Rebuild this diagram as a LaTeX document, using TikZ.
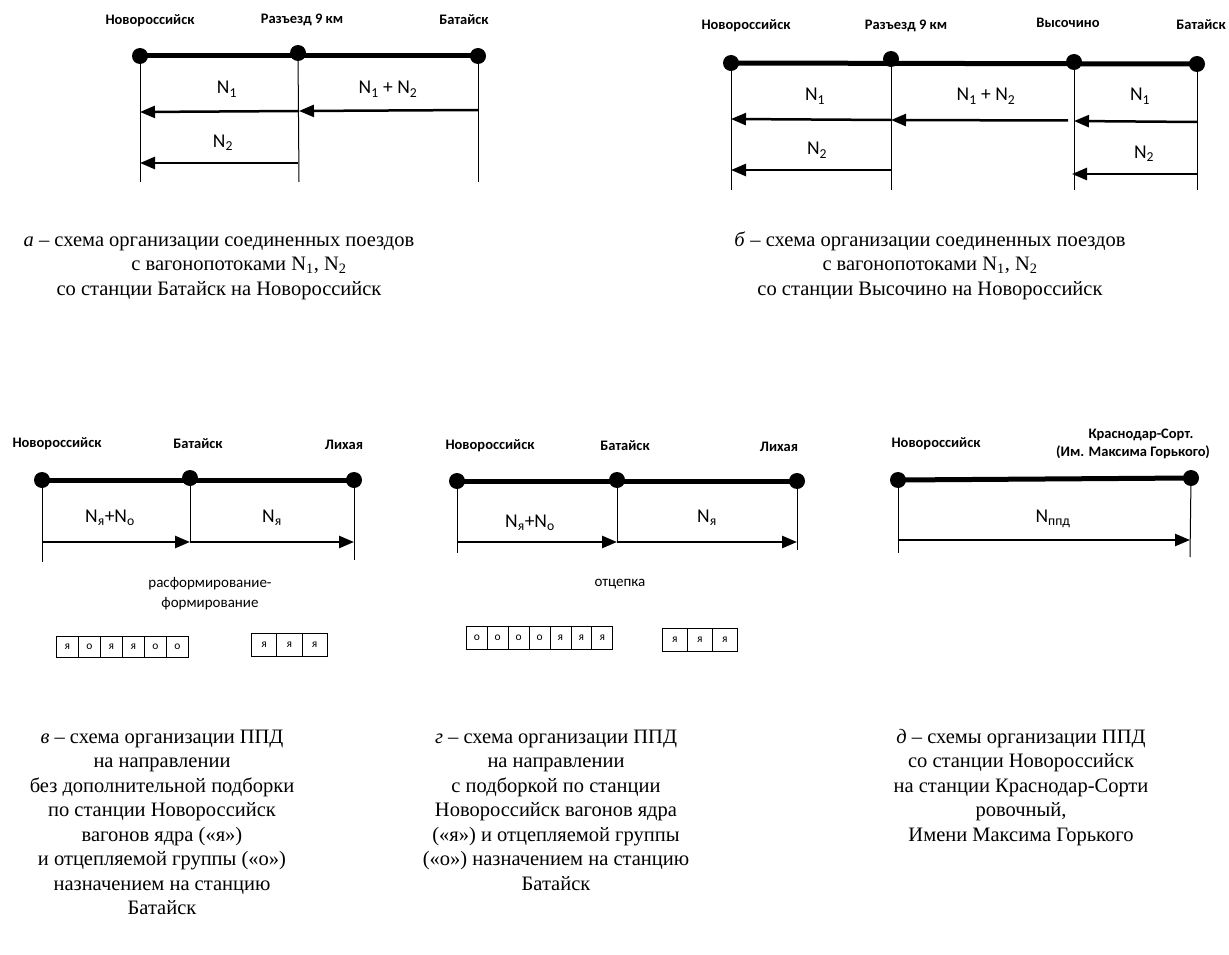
\documentclass[tikz,border=0pt]{standalone}
\usepackage{fontspec}
\setmainfont{Liberation Serif}
\newfontfamily\carl{Carlito}
\usetikzlibrary{arrows.meta}
\tikzset{
 track/.style={line width=5pt},
 stn/.style={circle, fill=black, inner sep=0pt, minimum size=16pt},
 vline/.style={line width=1pt},
 flow/.style={line width=2.5pt, -{Triangle[length=15pt,width=12pt]}},
 lbl/.style={font=\carl\bfseries\fontsize{14.5}{16}\selectfont, anchor=base, inner sep=0pt},
 nlbl/.style={font=\carl\fontsize{19.5}{22}\selectfont, anchor=base, inner sep=0pt},
 note/.style={font=\carl\fontsize{15}{20}\selectfont, align=center, anchor=base, inner sep=0pt},
 capt/.style={font=\fontsize{20.5}{24.5}\selectfont, align=center, anchor=north, inner sep=0pt},
 cell/.style={draw, line width=0.8pt, minimum width=22pt, minimum height=21pt, inner sep=0pt, font=\carl\fontsize{11.5}{12}\selectfont, anchor=north west}
}
\begin{document}
\begin{tikzpicture}[x=1pt,y=-1pt]
\useasboundingbox (0,0) rectangle (1229,955);

% ===== panel a =====
\coordinate (a1) at (140,56); \coordinate (a2) at (298,53); \coordinate (a3) at (478,56);
\draw[track] (a1) -- (a3);
\node[stn] (A1) at (a1) {}; \node[stn] (A2) at (a2) {}; \node[stn] (A3) at (a3) {};
\coordinate (a1b) at (140,182); \coordinate (a2b) at (299,182); \coordinate (a3b) at (478,182);
\draw[vline] (A1.center) -- (a1b); \draw[vline] (A2.center) -- (a2b); \draw[vline] (A3.center) -- (a3b);
\coordinate (ar1) at (478,110); \coordinate (ar2) at (299,111); \coordinate (ar3) at (140,112);
\draw[flow] (ar1) -- (ar2); \draw[flow] (ar2) -- (ar3);
\coordinate (ar4) at (298,163); \coordinate (ar5) at (140,163);
\draw[flow] (ar4) -- (ar5);
\node[lbl] (la1) at (150,25) {Новороссийск};
\node[lbl] (la2) at (302,24) {Разъезд 9 км};
\node[lbl] (la3) at (464,25) {Батайск};
\node[nlbl] (na1) at (227,94) {N\textsubscript{1}};
\node[nlbl] (na2) at (388,94) {N\textsubscript{1} + N\textsubscript{2}};
\node[nlbl] (na3) at (223,147) {N\textsubscript{2}};
\node[capt] (ca) at (219,229) {\strut\textit{а} – схема организации соединенных поездов\\\hspace*{40pt}с вагонопотоками N\textsubscript{1}, N\textsubscript{2}\\со станции Батайск на Новороссийск};

% ===== panel b =====
\coordinate (b1) at (731,63); \coordinate (b2) at (891,59); \coordinate (b3) at (1074,62); \coordinate (b4) at (1197,64);
\draw[track] (b1) -- (b4);
\node[stn] (B1) at (b1) {}; \node[stn] (B2) at (b2) {}; \node[stn] (B3) at (b3) {}; \node[stn] (B4) at (b4) {};
\coordinate (b1b) at (731,190); \coordinate (b2b) at (891,190); \coordinate (b3b) at (1074,190); \coordinate (b4b) at (1197,190);
\draw[vline] (B1.center) -- (b1b); \draw[vline] (B2.center) -- (b2b); \draw[vline] (B3.center) -- (b3b); \draw[vline] (B4.center) -- (b4b);
\coordinate (br1) at (1197,122); \coordinate (br2) at (1074,121);
\coordinate (br3) at (1068,120.5); \coordinate (br4) at (891,120);
\coordinate (br5) at (731,119);
\draw[flow] (br1) -- (br2); \draw[flow] (br3) -- (br4); \draw[flow] (br4) -- (br5);
\coordinate (br6) at (891,170); \coordinate (br7) at (731,170);
\coordinate (br8) at (1197,174); \coordinate (br9) at (1072,174);
\draw[flow] (br6) -- (br7); \draw[flow] (br8) -- (br9);
\node[lbl] (lb1) at (746,30) {Новороссийск};
\node[lbl] (lb2) at (906,30) {Разъезд 9 км};
\node[lbl] (lb3) at (1068,28) {Высочино};
\node[lbl] (lb4) at (1201,30) {Батайск};
\node[nlbl] (nb1) at (815,101) {N\textsubscript{1}};
\node[nlbl] (nb2) at (986,101) {N\textsubscript{1} + N\textsubscript{2}};
\node[nlbl] (nb3) at (1140,101) {N\textsubscript{1}};
\node[nlbl] (nb4) at (817,155) {N\textsubscript{2}};
\node[nlbl] (nb5) at (1144,158) {N\textsubscript{2}};
\node[capt] (cb) at (930,229) {\strut\textit{б} – схема организации соединенных поездов\\с вагонопотоками N\textsubscript{1}, N\textsubscript{2}\\со станции Высочино на Новороссийск};

% ===== panel v =====
\coordinate (v1) at (42,480); \coordinate (v2) at (190,478); \coordinate (v3) at (354,480);
\draw[track] (v1) -- (v3);
\node[stn] (V1) at (v1) {}; \node[stn] (V2) at (v2) {}; \node[stn] (V3) at (v3) {};
\coordinate (v1b) at (42,562); \coordinate (v2b) at (190,542); \coordinate (v3b) at (354,560);
\draw[vline] (V1.center) -- (v1b); \draw[vline] (V2.center) -- (v2b); \draw[vline] (V3.center) -- (v3b);
\coordinate (vr1) at (43,542); \coordinate (vr2) at (190,542); \coordinate (vr3) at (354,542);
\draw[flow] (vr1) -- (vr2); \draw[flow] (vr2) -- (vr3);
\node[lbl] (lv1) at (57,447) {Новороссийск};
\node[lbl] (lv2) at (198,448) {Батайск};
\node[lbl] (lv3) at (344,449) {Лихая};
\node[nlbl] (nv1) at (110,522) {N\textsubscript{я}+N\textsubscript{о}};
\node[nlbl] (nv2) at (272,522) {N\textsubscript{я}};
\node[note] (tv) at (210,607) {расформирование-\\формирование};
\foreach \t [count=\i from 0] in {я,о,я,я,о,о}
  \node[cell] (vc\i) at ({56+22*\i},636) {\t};
\foreach \t [count=\i from 0] in {я,я,я}
  \node[cell, minimum width=25.3pt, minimum height=23pt] (vd\i) at ({251+25.3*\i},633) {\t};
\node[capt] (cv) at (162,726) {\strut\textit{в} – схема организации ППД\\на направлении\\без дополнительной подборки\\по станции Новороссийск\\вагонов ядра («я»)\\и отцепляемой группы («о»)\\назначением на станцию\\Батайск};

% ===== panel g =====
\coordinate (g1) at (457,481); \coordinate (g2) at (617,480); \coordinate (g3) at (797,481);
\draw[track] (g1) -- (g3);
\node[stn] (G1) at (g1) {}; \node[stn] (G2) at (g2) {}; \node[stn] (G3) at (g3) {};
\coordinate (g1b) at (457,553); \coordinate (g2b) at (617,542); \coordinate (g3b) at (797,550);
\draw[vline] (G1.center) -- (g1b); \draw[vline] (G2.center) -- (g2b); \draw[vline] (G3.center) -- (g3b);
\coordinate (gr1) at (457,542); \coordinate (gr2) at (617,542); \coordinate (gr3) at (797,542);
\draw[flow] (gr1) -- (gr2); \draw[flow] (gr2) -- (gr3);
\node[lbl] (lg1) at (490,449) {Новороссийск};
\node[lbl] (lg2) at (625,450) {Батайск};
\node[lbl] (lg3) at (779,451) {Лихая};
\node[nlbl] (ng1) at (530,527) {N\textsubscript{я}+N\textsubscript{о}};
\node[nlbl] (ng2) at (707,522) {N\textsubscript{я}};
\node[note] (tg) at (620,586) {отцепка};
\foreach \t [count=\i from 0] in {о,о,о,о,я,я,я}
  \node[cell, minimum width=20.9pt, minimum height=23pt] (gc\i) at ({466+20.9*\i},626) {\t};
\foreach \t [count=\i from 0] in {я,я,я}
  \node[cell, minimum width=25pt, minimum height=23pt] (gd\i) at ({662+25*\i},628) {\t};
\node[capt] (cg) at (556,726) {\strut\textit{г} – схема организации ППД\\на направлении\\с подборкой по станции\\Новороссийск вагонов ядра\\(«я») и отцепляемой группы\\(«о») назначением на станцию\\Батайск};

% ===== panel d =====
\coordinate (d1) at (898,480); \coordinate (d2) at (1191,478);
\draw[track] (d1) -- (d2);
\node[stn] (D1) at (d1) {}; \node[stn] (D2) at (d2) {};
\coordinate (d1b) at (898,553); \coordinate (d2b) at (1190,557);
\draw[vline] (D1.center) -- (d1b); \draw[vline] (D2.center) -- (d2b);
\coordinate (dr1) at (898,540); \coordinate (dr2) at (1190,540);
\draw[flow] (dr1) -- (dr2);
\node[lbl] (ld1) at (936,447) {Новороссийск};
\node[lbl] (ld2) at (1141,438) {Краснодар-Сорт.};
\node[lbl] (ld3) at (1133,456) {(Им. Максима Горького)};
\node[nlbl] (nd1) at (1053,522) {N\textsubscript{ппд}};
\node[capt] (cd) at (1021,726) {\strut\textit{д} – схемы организации ППД\\со станции Новороссийск\\на станции Краснодар-Сорти\\ровочный,\\Имени Максима Горького};
\end{tikzpicture}
\end{document}
